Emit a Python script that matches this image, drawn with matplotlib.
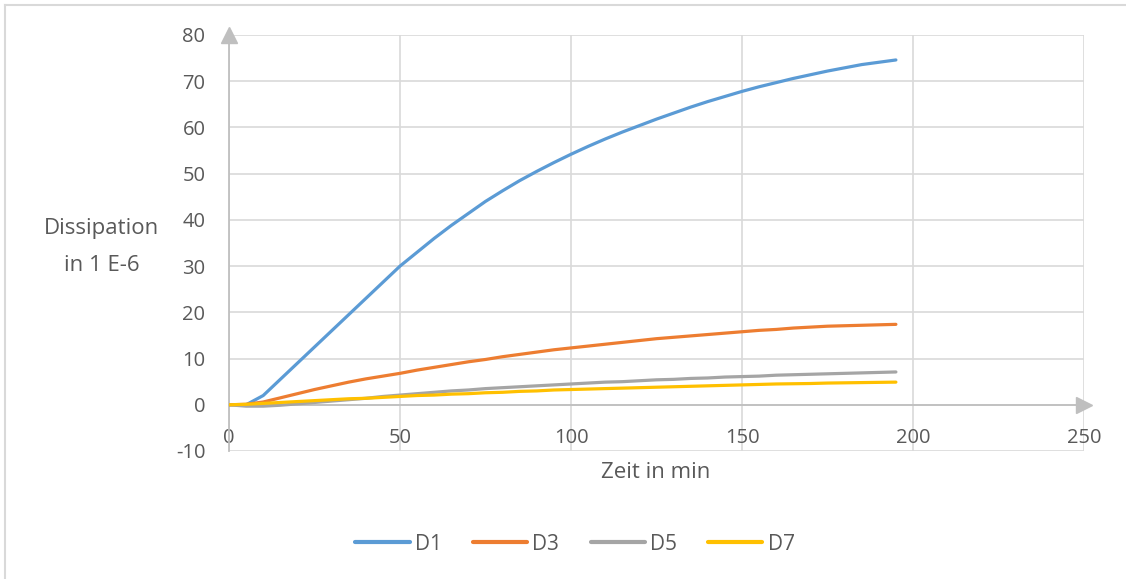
import matplotlib.pyplot as plt
from matplotlib.lines import Line2D

# time in minutes, dissipation in units of 1e-6
zeit = list(range(0, 200, 5))

d1 = [0, 0, 2, 5.5, 9, 12.5, 16, 19.5, 23, 26.5,
      30, 33, 36, 38.8, 41.4, 44, 46.3, 48.5, 50.5, 52.4,
      54.2, 55.9, 57.5, 59, 60.4, 61.8, 63.1, 64.4, 65.6, 66.7,
      67.8, 68.8, 69.7, 70.6, 71.4, 72.2, 72.9, 73.6, 74.1, 74.6]
d3 = [0, 0.1, 0.6, 1.5, 2.4, 3.3, 4.1, 4.9, 5.6, 6.2,
      6.8, 7.5, 8.1, 8.7, 9.3, 9.8, 10.4, 10.9, 11.4, 11.9,
      12.3, 12.7, 13.1, 13.5, 13.9, 14.3, 14.6, 14.9, 15.2, 15.5,
      15.8, 16.1, 16.3, 16.6, 16.8, 17.0, 17.1, 17.2, 17.3, 17.4]
d5 = [0, -0.3, -0.3, -0.1, 0.2, 0.5, 0.8, 1.1, 1.4, 1.8,
      2.1, 2.4, 2.7, 3.0, 3.2, 3.5, 3.7, 3.9, 4.1, 4.3,
      4.5, 4.7, 4.9, 5.0, 5.2, 5.4, 5.5, 5.7, 5.8, 6.0,
      6.1, 6.2, 6.4, 6.5, 6.6, 6.7, 6.8, 6.9, 7.0, 7.1]
d7 = [0, 0.1, 0.3, 0.5, 0.7, 0.9, 1.1, 1.3, 1.4, 1.6,
      1.8, 2.0, 2.1, 2.3, 2.4, 2.6, 2.7, 2.9, 3.0, 3.2,
      3.3, 3.4, 3.5, 3.6, 3.7, 3.8, 3.9, 4.0, 4.1, 4.2,
      4.3, 4.4, 4.5, 4.55, 4.6, 4.7, 4.75, 4.8, 4.85, 4.9]

names = ["D1", "D3", "D5", "D7"]
colors = ["#5B9BD5", "#ED7D31", "#A5A5A5", "#FFC000"]

plt.rcParams["font.family"] = ["Open Sans", "DejaVu Sans"]
plt.rcParams["axes.unicode_minus"] = False
textcol = "#595959"
gridcol = "#d9d9d9"
axiscol = "#bfbfbf"

fig = plt.figure(figsize=(11.26, 5.79), dpi=100)
ax = fig.add_axes([229 / 1126, 1 - 451 / 579, (1084 - 229) / 1126, (451 - 35) / 579])

for series, name, c in zip([d1, d3, d5, d7], names, colors):
    ax.plot(zeit, series, color=c, lw=2.3, solid_capstyle="round", label=name, zorder=3)

ax.set_xlim(0, 250)
ax.set_ylim(-10, 80)
ax.set_xticks(range(0, 251, 50))
ax.set_yticks(range(-10, 81, 10))
ax.grid(True, color=gridcol, lw=1.2, zorder=0)
ax.set_axisbelow(True)

for s in ["top", "right"]:
    ax.spines[s].set_visible(False)
ax.spines["bottom"].set_position(("data", 0))
ax.spines["left"].set_position(("data", 0))
for s in ["bottom", "left"]:
    ax.spines[s].set_color(axiscol)
    ax.spines[s].set_linewidth(1.3)

# arrow heads at the axis ends
ax.plot(250, 0, marker=">", ms=11, color=axiscol, clip_on=False, zorder=2)
ax.plot(0, 80, marker="^", ms=11, color=axiscol, clip_on=False, zorder=2)

ax.tick_params(length=0, colors=textcol, labelsize=14.5)
ax.tick_params(axis="x", pad=17)
ax.tick_params(axis="y", pad=17)

fig.text(102 / 1126, 1 - 247 / 579, "Dissipation\nin 1 E-6", ha="center", va="center",
         fontsize=16, color=textcol, linespacing=1.95)
fig.text(656 / 1126, 1 - 473 / 579, "Zeit in min", ha="center", va="center",
         fontsize=16, color=textcol)

handles = [Line2D([0], [0], color=c, lw=3, solid_capstyle="round") for c in colors]
fig.legend(handles, names, loc="center", bbox_to_anchor=(575 / 1126, 1 - 544 / 579), ncol=4,
           frameon=False, fontsize=15, labelcolor=textcol, handlelength=2.6,
           columnspacing=1.5, handletextpad=0.25)

# thin frame around the chart area
fig.add_artist(Line2D([5 / 1126, 5 / 1126], [0, 1 - 5 / 579], transform=fig.transFigure,
                      color=gridcol, lw=1.5))
fig.add_artist(Line2D([5 / 1126, 1], [1 - 5 / 579, 1 - 5 / 579], transform=fig.transFigure,
                      color=gridcol, lw=1.5))

fig.savefig("out.png", dpi=100, facecolor="white")
